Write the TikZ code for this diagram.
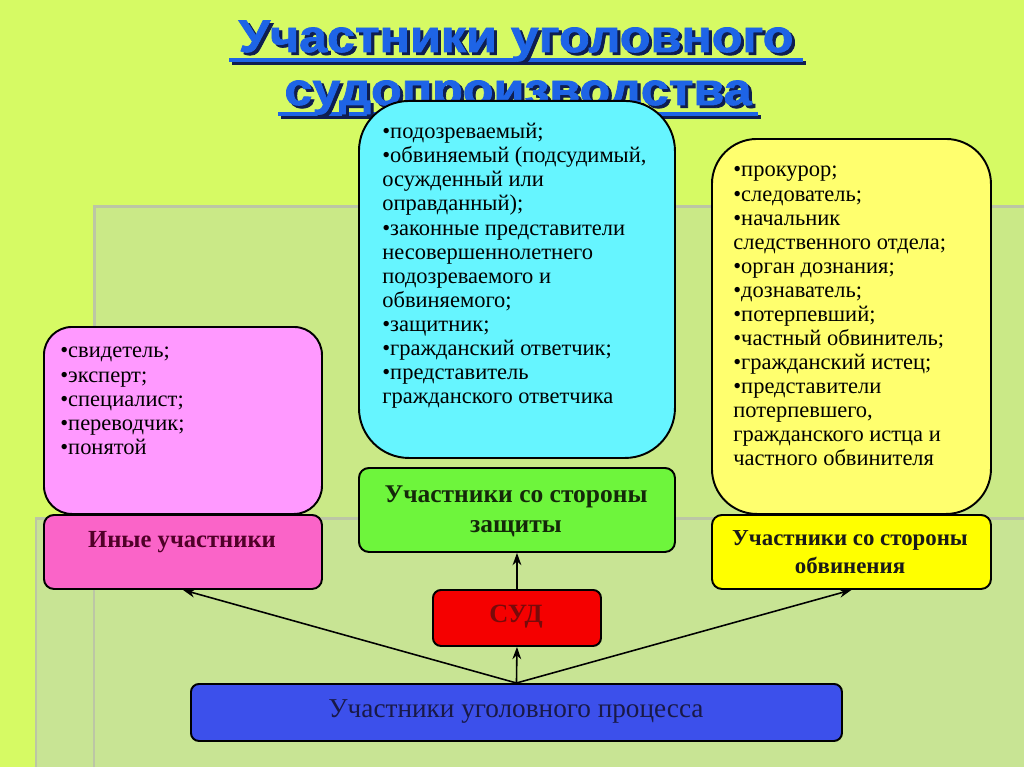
\documentclass[tikz,border=0pt]{standalone}
\usepackage{fontspec}
\setmainfont{Liberation Serif}
\newfontfamily\titlefont{Liberation Sans}[BoldFeatures={FakeBold=1.6}]
\usetikzlibrary{arrows.meta}
\definecolor{bg}{RGB}{214,250,100}
\definecolor{panelA}{RGB}{202,233,135}
\definecolor{panelB}{RGB}{200,228,148}
\definecolor{edge}{RGB}{188,198,165}
\definecolor{pinkL}{RGB}{255,153,255}
\definecolor{pinkD}{RGB}{250,100,200}
\definecolor{cyanL}{RGB}{102,245,255}
\definecolor{greenL}{RGB}{110,245,60}
\definecolor{yellowL}{RGB}{255,255,110}
\definecolor{yellowD}{RGB}{255,255,0}
\definecolor{redB}{RGB}{245,0,0}
\definecolor{blueB}{RGB}{60,80,235}
\definecolor{titleblue}{RGB}{30,100,230}
\definecolor{titleshadow}{RGB}{15,30,80}
\definecolor{maroon}{RGB}{80,0,40}
\definecolor{dgreen}{RGB}{20,40,10}
\definecolor{dred}{RGB}{120,10,10}
\definecolor{navy}{RGB}{25,25,70}
\newcommand{\shadowtext}[1]{\scalebox{1.1}[1]{\rlap{\kern1.6pt\raisebox{-1.6pt}{\color{titleshadow}#1}}\color{titleblue}#1}}
\begin{document}
\begin{tikzpicture}[x=0.02cm,y=-0.02cm,
  box/.style={draw=black, line width=1.1pt, inner sep=0pt, anchor=north west},
  listtext/.style={anchor=north west, inner sep=0pt, align=left,
    font=\fontsize{12.8}{13.7}\selectfont},
  labeltext/.style={inner sep=0pt, align=center, font=\bfseries},
  conn/.style={line width=0.9pt, -{Stealth[length=7pt,width=5pt]}},
  ttl/.style={inner sep=0pt, anchor=base, font=\titlefont\bfseries\fontsize{26}{30}\selectfont}]
\useasboundingbox (0,0) rectangle (1024,767);
% background
\fill[bg] (0,0) rectangle (1024,767);
\fill[panelA] (93,205) rectangle (1024,767);
\fill[edge] (93,205) rectangle (1024,208);
\fill[edge] (93,205) rectangle (96,767);
\fill[panelB] (35,517) rectangle (1024,767);
\fill[edge] (35,517) rectangle (1024,520);
\fill[edge] (35,517) rectangle (37,767);
\fill[edge] (93,517) rectangle (95,767);
% title
\fill[titleshadow] (232,61) rectangle (806,65);
\fill[titleblue] (229,58) rectangle (803,62);
\fill[titleshadow] (281,115) rectangle (761,119);
\fill[titleblue] (278,112) rectangle (758,116);
\node[ttl] (t1) at (516,52) {\shadowtext{Участники уголовного}};
\node[ttl] (t2) at (518,105) {\shadowtext{судопроизводства}};
% boxes
\node[box, fill=pinkL, rounded corners=0.56cm, minimum width=278*0.02cm, minimum height=187*0.02cm] (pinklist) at (43,326) {};
\node[box, fill=pinkD, rounded corners=0.2cm, minimum width=278*0.02cm, minimum height=74*0.02cm] (pinklab) at (43,514) {};
\node[box, fill=cyanL, rounded corners=1cm, minimum width=316*0.02cm, minimum height=357*0.02cm] (cyanlist) at (358,100) {};
\node[box, fill=greenL, rounded corners=0.2cm, minimum width=316*0.02cm, minimum height=84*0.02cm] (greenlab) at (358,467) {};
\node[box, fill=yellowL, rounded corners=0.9cm, minimum width=279*0.02cm, minimum height=375*0.02cm] (yellist) at (711,138) {};
\node[box, fill=yellowD, rounded corners=0.2cm, minimum width=279*0.02cm, minimum height=74*0.02cm] (yellab) at (711,514) {};
\node[box, fill=redB, rounded corners=0.16cm, minimum width=168*0.02cm, minimum height=56*0.02cm] (sud) at (432,589) {};
\node[box, fill=blueB, rounded corners=0.16cm, minimum width=651*0.02cm, minimum height=57*0.02cm] (proc) at (190,683) {};
% connectors
\draw[conn] (proc.north) -- (sud.south);
\draw[conn] (sud.north) -- (greenlab.south);
\draw[conn] (proc.north) -- (pinklab.south);
\draw[conn] (proc.north) -- (yellab.south);
% list texts
\node[listtext] (pinktext) at (60,347) {\textbullet свидетель;\\ \textbullet эксперт;\\ \textbullet специалист;\\ \textbullet переводчик;\\ \textbullet понятой};
\node[listtext] (cyantext) at (382,123) {\textbullet подозреваемый;\\ \textbullet обвиняемый (подсудимый,\\ осужденный или\\ оправданный);\\ \textbullet законные представители\\ несовершеннолетнего\\ подозреваемого и\\ обвиняемого;\\ \textbullet защитник;\\ \textbullet гражданский ответчик;\\ \textbullet представитель\\ гражданского ответчика};
\node[listtext] (yeltext) at (733,166) {\textbullet прокурор;\\ \textbullet следователь;\\ \textbullet начальник\\ следственного отдела;\\ \textbullet орган дознания;\\ \textbullet дознаватель;\\ \textbullet потерпевший;\\ \textbullet частный обвинитель;\\ \textbullet гражданский истец;\\ \textbullet представители\\ потерпевшего,\\ гражданского истца и\\ частного обвинителя};
% label texts
\node[labeltext, text=maroon, font=\bfseries\fontsize{14}{16}\selectfont] (pinkt) at (182,542) {Иные участники};
\node[labeltext, text=dgreen, font=\bfseries\fontsize{14.5}{17}\selectfont] (greent) at (516,511) {Участники со стороны\\ защиты};
\node[labeltext, text=black!90, font=\bfseries\fontsize{13}{16}\selectfont] (yelt) at (850,552) {Участники со стороны\\ обвинения};
\node[labeltext, text=dred, font=\bfseries\fontsize{15}{17}\selectfont] (sudt) at (516,617) {СУД};
\node[labeltext, text=navy, font=\fontsize{15.5}{18}\selectfont] (proct) at (516,712) {Участники уголовного процесса};
\end{tikzpicture}
\end{document}
